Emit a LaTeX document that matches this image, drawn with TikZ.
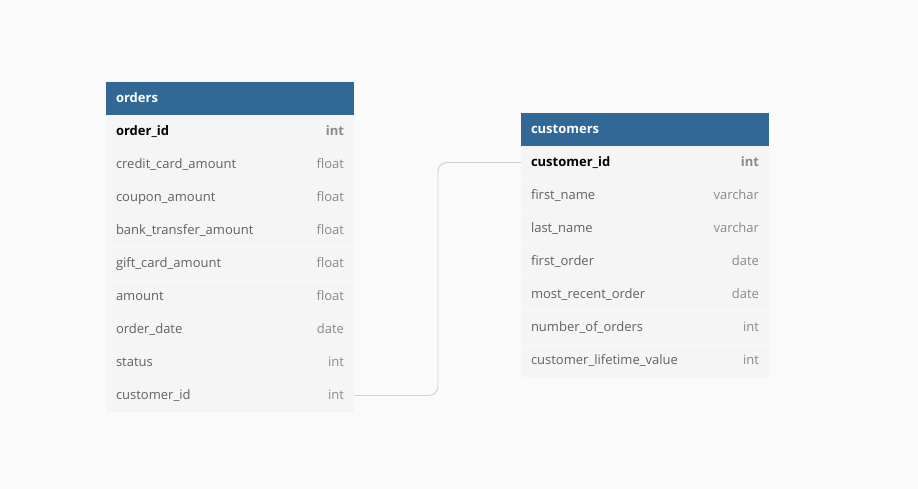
\documentclass[tikz,border=0pt]{standalone}
\usepackage{fontspec}
\setmainfont{Open Sans}
\usetikzlibrary{positioning}

\definecolor{pagebg}{HTML}{FAFAFA}
\definecolor{headblue}{HTML}{316896}
\definecolor{rowbg}{HTML}{F5F5F5}
\definecolor{rowline}{HTML}{F9F9F9}
\definecolor{fieldtext}{HTML}{616161}
\definecolor{typetext}{HTML}{8A8A8A}
\definecolor{linkgray}{HTML}{D2D2D2}

\tikzset{
  tablehead/.style={fill=headblue, text=white, font=\bfseries\fontsize{13}{15}\selectfont,
    minimum width=248pt, minimum height=33pt, text width=228pt, text height=10.5pt, text depth=2pt,
    inner sep=0pt, outer sep=0pt, anchor=north west},
  tablerow/.style={fill=rowbg, font=\fontsize{13}{15}\selectfont,
    minimum width=248pt, minimum height=33pt, text width=228pt, text height=10.5pt, text depth=2pt,
    inner sep=0pt, outer sep=0pt},
  keyrow/.style={tablerow, font=\bfseries\fontsize{13}{15}\selectfont},
  relation/.style={draw=linkgray, line width=0.9pt, rounded corners=9pt}
}

\newcommand{\fieldrow}[2]{{\color{fieldtext}#1}\hfill{\color{typetext}#2}}
\newcommand{\keyfield}[2]{{\color{black}#1}\hfill{\color{typetext}#2}}

\begin{document}
\begin{tikzpicture}[x=1pt, y=-1pt]
    \fill[pagebg] (0,0) rectangle (918,489);
    \useasboundingbox (0,0) rectangle (918,489);

    % orders table
    \node[tablehead] (orders) at (106,82) {orders};
    \node[keyrow, below=0pt of orders] (orders-1) {\keyfield{order\_id}{int}};
    \foreach \name/\type [count=\i from 2] in {credit\_card\_amount/float, coupon\_amount/float,
        bank\_transfer\_amount/float, gift\_card\_amount/float, amount/float,
        order\_date/date, status/int, customer\_id/int}
    {
        \pgfmathtruncatemacro{\prev}{\i-1}
        \node[tablerow, below=0pt of orders-\prev] (orders-\i) {\fieldrow{\name}{\type}};
        \draw[rowline, line width=0.6pt] (orders-\i.north west) -- (orders-\i.north east);
    }

    % customers table
    \node[tablehead] (customers) at (521,113) {customers};
    \node[keyrow, below=0pt of customers] (customers-1) {\keyfield{customer\_id}{int}};
    \foreach \name/\type [count=\i from 2] in {first\_name/varchar, last\_name/varchar,
        first\_order/date, most\_recent\_order/date, number\_of\_orders/int,
        customer\_lifetime\_value/int}
    {
        \pgfmathtruncatemacro{\prev}{\i-1}
        \node[tablerow, below=0pt of customers-\prev] (customers-\i) {\fieldrow{\name}{\type}};
        \draw[rowline, line width=0.6pt] (customers-\i.north west) -- (customers-\i.north east);
    }

    % foreign key
    \draw[relation] (orders-9.east) -| (438,0 |- customers-1.west) -- (customers-1.west);
\end{tikzpicture}
\end{document}
